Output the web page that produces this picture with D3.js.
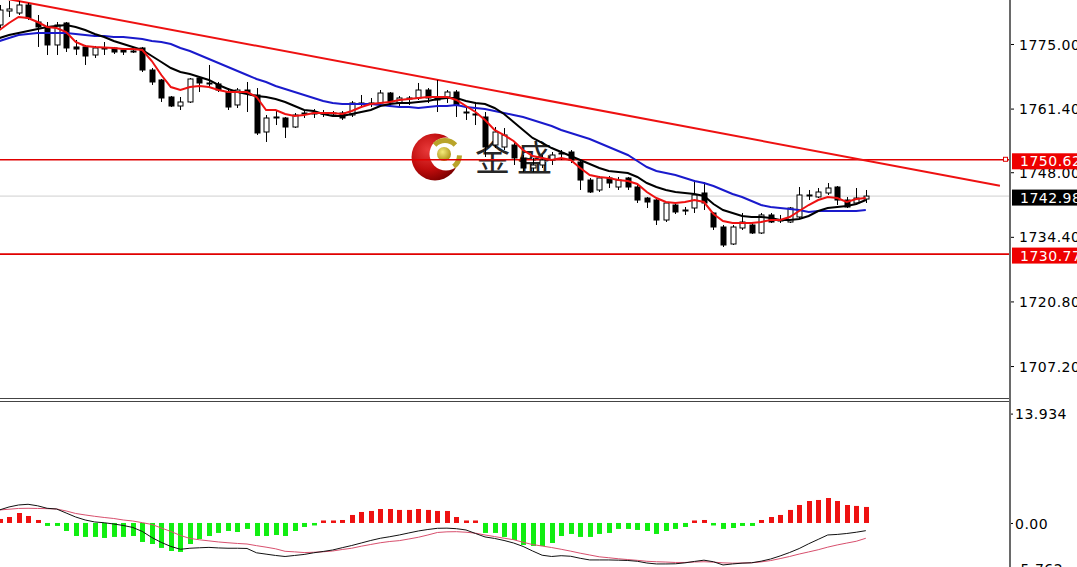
<!DOCTYPE html>
<html><head><meta charset="utf-8">
<script src="https://cdn.jsdelivr.net/npm/d3@7/dist/d3.min.js"></script>
<style>html,body{margin:0;padding:0;background:#fff;overflow:hidden}svg{display:block}</style>
</head><body>
<svg id="chart" width="1077" height="567"></svg>
<script>
// ---------- DATA ----------
const opens=[1779.00,1781.94,1781.52,1783.21,1779.63,1778.58,1774.79,1779.42,1774.37,1774.37,
1772.68,1774.16,1774.16,1773.73,1773.52,1774.16,1769.52,1767.42,1763.84,1761.94,
1762.79,1767.84,1766.79,1766.58,1764.89,1762.16,1765.31,1764.26,1756.47,1759.63,
1759.42,1757.52,1760.47,1760.47,1760.47,1760.47,1760.47,1760.05,1762.58,1762.58,
1762.58,1764.68,1762.58,1763.63,1763.63,1765.31,1763.63,1763.84,1764.89,1760.68,
1760.26,1759.63,1753.73,1753.31,1753.73,1751.00,1748.89,1749.52,1750.57,1751.84,
1752.26,1750.15,1746.36,1744.26,1746.79,1744.89,1746.79,1744.89,1742.57,1742.15,
1737.94,1741.10,1740.05,1740.47,1743.63,1739.42,1736.47,1732.89,1736.26,1736.89,
1735.21,1739.00,1737.94,1737.52,1738.58,1743.21,1742.79,1743.63,1744.89,1742.15,
1741.52,1742.36];
const highs=[1783.21,1784.05,1784.05,1783.63,1781.10,1779.63,1779.63,1779.63,1775.84,1774.79,
1774.58,1775.42,1774.37,1774.16,1774.16,1774.37,1769.94,1767.63,1764.05,1763.84,
1767.84,1768.05,1770.58,1767.00,1765.73,1765.73,1767.00,1765.73,1760.05,1761.10,
1759.63,1760.47,1761.10,1761.31,1761.10,1760.89,1760.89,1763.00,1764.26,1763.63,
1765.31,1764.89,1764.05,1764.05,1766.79,1765.73,1767.42,1765.31,1765.31,1761.73,
1762.79,1760.68,1757.52,1757.31,1754.16,1751.63,1751.00,1751.63,1752.26,1752.68,
1752.68,1750.57,1746.79,1747.21,1747.21,1747.00,1747.00,1745.31,1742.79,1742.36,
1741.73,1741.52,1740.68,1746.36,1745.94,1739.63,1736.89,1736.89,1739.42,1737.31,
1739.42,1739.42,1739.00,1740.68,1744.89,1744.26,1744.68,1745.73,1745.10,1742.79,
1744.68,1744.26];
const lows=[1778.37,1780.68,1781.10,1780.05,1774.37,1772.68,1772.68,1773.31,1772.68,1770.58,
1772.05,1772.68,1772.89,1772.68,1773.10,1769.10,1766.37,1762.79,1761.73,1761.10,
1762.58,1764.89,1765.94,1764.89,1761.10,1761.52,1760.68,1755.84,1754.37,1757.94,
1755.21,1757.31,1759.42,1759.42,1759.63,1759.63,1759.00,1759.63,1761.73,1761.73,
1762.16,1761.73,1761.52,1762.16,1763.21,1762.58,1760.68,1762.58,1759.63,1759.00,
1757.94,1751.21,1753.10,1752.68,1749.52,1748.05,1748.05,1748.89,1749.52,1750.57,
1749.94,1744.26,1743.63,1743.84,1744.68,1744.26,1744.26,1741.52,1740.47,1736.89,
1737.52,1739.21,1739.00,1739.42,1740.05,1735.84,1732.26,1732.68,1735.84,1735.00,
1735.00,1737.31,1737.31,1737.31,1738.36,1742.15,1742.57,1743.21,1741.10,1740.47,
1741.10,1741.52];
const closes=[1782.15,1782.37,1783.21,1780.47,1778.58,1774.79,1779.00,1774.16,1773.94,1772.47,
1774.16,1773.94,1773.31,1773.31,1773.42,1769.52,1767.00,1763.63,1761.94,1762.79,
1767.63,1766.79,1766.58,1765.31,1761.73,1765.31,1764.68,1756.26,1759.42,1759.42,
1757.52,1760.05,1760.26,1760.36,1760.26,1760.36,1759.42,1762.58,1762.37,1762.37,
1764.68,1762.79,1763.63,1763.42,1765.31,1763.63,1763.21,1764.89,1762.16,1760.47,
1760.05,1753.31,1756.47,1755.84,1751.00,1748.89,1749.52,1750.57,1751.63,1752.05,
1750.57,1746.36,1743.84,1746.79,1745.73,1746.36,1744.89,1742.15,1741.73,1737.94,
1741.52,1739.63,1739.84,1743.21,1741.52,1736.47,1732.68,1736.47,1737.52,1735.21,
1739.00,1737.52,1737.73,1740.47,1743.21,1743.00,1743.84,1744.68,1742.15,1740.68,
1742.57,1742.98];

const maFast=[1777.94,1779.42,1780.68,1780.47,1779.63,1778.58,1778.37,1777.52,1775.42,1774.58,
1774.37,1774.26,1774.16,1773.94,1773.94,1773.73,1771.42,1768.47,1765.94,1765.31,
1765.94,1766.16,1765.94,1765.31,1764.89,1764.89,1764.89,1763.84,1761.10,1761.10,
1760.26,1759.84,1760.05,1760.47,1760.47,1760.47,1760.26,1760.89,1761.73,1762.37,
1762.58,1762.79,1763.21,1763.42,1763.63,1763.84,1763.84,1763.84,1763.21,1761.94,
1760.68,1759.00,1756.89,1755.84,1754.58,1752.68,1751.42,1751.00,1750.57,1751.00,
1750.57,1748.89,1747.42,1747.00,1746.79,1746.36,1746.15,1745.52,1743.84,1742.57,
1741.73,1741.52,1741.73,1742.15,1741.73,1739.21,1737.73,1737.31,1737.31,1737.31,
1737.52,1737.94,1737.94,1738.58,1739.84,1741.10,1742.15,1742.79,1742.57,1741.73,
1742.36,1742.57];
const maMid=[1776.26,1776.89,1777.31,1777.73,1778.15,1778.58,1778.79,1779.00,1778.58,1777.94,
1777.10,1776.47,1775.63,1775.00,1774.37,1773.73,1772.47,1771.21,1769.94,1769.10,
1768.68,1768.05,1767.42,1766.37,1765.52,1764.89,1764.47,1764.05,1763.84,1763.42,
1762.79,1761.94,1761.10,1760.89,1760.26,1759.84,1759.84,1760.26,1760.68,1761.10,
1761.94,1762.37,1762.58,1762.58,1762.79,1763.00,1763.42,1763.63,1763.63,1763.00,
1762.58,1762.37,1761.52,1760.26,1758.58,1756.89,1755.21,1754.16,1753.10,1752.26,
1751.42,1750.57,1749.73,1748.89,1748.26,1748.05,1747.84,1747.00,1745.73,1744.89,
1744.26,1743.84,1743.63,1743.42,1743.00,1741.31,1740.05,1739.42,1738.79,1738.58,
1738.58,1738.36,1737.94,1737.94,1738.15,1738.79,1739.84,1740.47,1740.68,1740.89,
1741.31,1742.15];
const maSlow=[1775.63,1776.26,1776.89,1777.10,1777.31,1777.31,1777.31,1777.31,1777.10,1776.89,
1776.68,1776.68,1776.47,1776.47,1776.26,1776.05,1775.63,1775.42,1775.00,1774.16,
1773.52,1772.68,1771.84,1771.00,1770.15,1769.31,1768.47,1767.63,1767.00,1766.16,
1765.52,1764.89,1764.26,1763.63,1763.00,1762.58,1762.37,1762.37,1762.37,1762.37,
1762.16,1761.94,1761.73,1761.73,1761.52,1761.73,1761.94,1761.94,1762.16,1761.73,
1761.52,1761.31,1760.89,1760.47,1760.05,1759.63,1759.00,1758.37,1757.73,1756.89,
1756.26,1755.63,1755.00,1754.16,1753.31,1752.47,1751.63,1750.36,1749.10,1748.26,
1747.84,1747.42,1746.79,1746.15,1745.73,1745.10,1744.26,1743.42,1742.79,1741.94,
1741.10,1740.68,1740.47,1740.26,1740.05,1739.63,1739.84,1739.84,1739.84,1739.84,
1739.84,1740.05];

const macdLine=[1.66,2.04,2.29,2.38,2.19,1.87,1.78,1.27,0.76,0.38,
0.13,0.03,-0.13,-0.32,-0.57,-1.08,-1.85,-2.48,-2.99,-3.35,
-3.22,-3.16,-3.11,-3.18,-3.22,-3.22,-3.25,-3.80,-3.97,-4.14,
-4.27,-4.14,-4.01,-3.80,-3.63,-3.44,-3.15,-2.87,-2.55,-2.23,
-1.95,-1.75,-1.53,-1.27,-1.02,-0.83,-0.68,-0.66,-0.73,-0.89,
-1.34,-1.78,-1.97,-2.23,-2.55,-2.99,-3.57,-4.11,-4.27,-4.17,
-4.24,-4.50,-4.71,-4.71,-4.71,-4.74,-4.78,-4.88,-5.10,-5.22,
-5.22,-5.20,-5.08,-4.90,-4.74,-4.94,-5.35,-5.22,-5.12,-5.07,
-4.87,-4.59,-4.20,-3.76,-3.26,-2.65,-2.09,-1.53,-1.46,-1.34,
-1.18,-0.98];
const signalLine=[1.66,1.75,1.85,1.87,1.85,1.82,1.78,1.53,1.21,1.02,
0.85,0.70,0.57,0.38,0.25,0.04,-0.19,-0.64,-1.08,-1.59,
-1.97,-2.14,-2.28,-2.42,-2.52,-2.61,-2.68,-2.89,-3.08,-3.29,
-3.61,-3.68,-3.77,-3.73,-3.67,-3.57,-3.38,-3.22,-2.96,-2.74,
-2.52,-2.36,-2.25,-2.04,-1.82,-1.53,-1.21,-1.13,-1.11,-1.18,
-1.30,-1.53,-1.73,-1.94,-2.13,-2.46,-2.75,-2.94,-3.13,-3.35,
-3.59,-3.85,-4.08,-4.31,-4.43,-4.56,-4.66,-4.76,-4.88,-4.94,
-4.98,-5.03,-5.03,-4.97,-4.94,-4.99,-5.08,-5.12,-5.10,-5.07,
-4.96,-4.79,-4.54,-4.27,-3.96,-3.69,-3.41,-3.08,-2.80,-2.56,
-2.33,-1.95];
const histogram=[0.51,0.76,1.27,0.89,0.38,-0.38,-0.38,-1.02,-1.66,-1.78,
-1.78,-1.91,-1.78,-1.78,-1.66,-2.42,-2.68,-3.18,-3.57,-3.69,
-2.68,-2.04,-1.66,-1.27,-1.02,-1.15,-0.76,-1.66,-1.66,-1.53,
-1.66,-1.02,-0.51,-0.25,0.19,0.25,0.38,1.02,1.40,1.53,
1.78,1.78,1.66,1.66,1.78,1.66,1.53,1.53,0.76,0.19,
0.13,-1.27,-1.27,-1.78,-2.17,-2.80,-2.93,-2.93,-2.55,-1.66,
-1.40,-1.78,-1.78,-1.40,-1.27,-0.76,-0.76,-0.89,-1.02,-1.40,
-1.02,-0.76,-0.51,0.19,0.38,-0.32,-0.76,-0.64,-0.38,-0.38,
0.38,0.76,1.02,1.66,2.29,2.80,2.93,3.18,2.80,2.29,
2.17,2.04];

const priceTicks=[1775.00,1761.40,1748.00,1734.40,1720.80,1707.20];
const levelPrices=[1750.62,1730.77];
const bidPrice=1742.98;
const macdTicks=[13.934,0,-5.762];
const macdTickLabels=["13.934","0.00","-5.762"];
const trendBars=[0,105.09];
const trendPrices=[1784.79,1745.17];
const logoText="金盛";

// ---------- LAYOUT ----------
const W=1077,H=567, axisX=1010;
const svg=d3.select("#chart");
const font="'DejaVu Sans', Verdana, sans-serif";
const n=closes.length;
const x=d3.scaleLinear().domain([0,n-1]).range([-0.5,865.8]);
const y=d3.scaleLinear().domain([1700.47,1784.26]).range([398,0]);
const ym=d3.scaleLinear().domain([-5.762,13.934]).range([568.2,413.6]);

const defs=svg.append("defs");
defs.append("clipPath").attr("id","cMain").append("rect").attr("x",0).attr("y",0).attr("width",axisX).attr("height",398);
defs.append("clipPath").attr("id","cMacd").append("rect").attr("x",0).attr("y",402).attr("width",axisX).attr("height",H-402);
const rg=defs.append("radialGradient").attr("id","redG").attr("cx","35%").attr("cy","35%").attr("r","70%");
rg.append("stop").attr("offset","0%").attr("stop-color","#e83a3a");
rg.append("stop").attr("offset","60%").attr("stop-color","#c00d0d");
rg.append("stop").attr("offset","100%").attr("stop-color","#7d0000");
const gg=defs.append("radialGradient").attr("id","goldG").attr("cx","40%").attr("cy","35%").attr("r","70%");
gg.append("stop").attr("offset","0%").attr("stop-color","#f4ea7a");
gg.append("stop").attr("offset","100%").attr("stop-color","#a88e12");

// ---------- LOGO (watermark, behind) ----------
const logo=svg.append("g");
logo.append("circle").attr("cx",435).attr("cy",157).attr("r",23.5).attr("fill","url(#redG)");
logo.append("circle").attr("cx",446).attr("cy",154).attr("r",16.5).attr("fill","#fff");
const arcG=d3.arc().innerRadius(12).outerRadius(17);
logo.append("path").attr("transform","translate(445,155)")
  .attr("d",arcG({startAngle:-0.8,endAngle:0.8})).attr("fill","#b9a42a");
logo.append("path").attr("transform","translate(445,155)")
  .attr("d",arcG({startAngle:1.6,endAngle:2.5})).attr("fill","#b9a42a");
logo.append("circle").attr("cx",444).attr("cy",154).attr("r",7).attr("fill","url(#goldG)");
logo.append("text").attr("x",475).attr("y",171).text(logoText)
  .attr("font-family","'Noto Sans CJK SC', sans-serif").attr("font-size",35)
  .attr("letter-spacing",7).attr("fill","#262626");

// ---------- MAIN PANEL ----------
const main=svg.append("g").attr("clip-path","url(#cMain)");
main.append("line").attr("x1",0).attr("x2",axisX).attr("y1",y(bidPrice)).attr("y2",y(bidPrice))
  .attr("stroke","#cfcfcf").attr("stroke-width",1);
main.selectAll("line.lvl").data(levelPrices).join("line").attr("class","lvl")
  .attr("x1",0).attr("x2",axisX).attr("y1",d=>y(d)).attr("y2",d=>y(d))
  .attr("stroke","#e00000").attr("stroke-width",1.6);
main.append("line").attr("x1",x(trendBars[0])).attr("y1",y(trendPrices[0]))
  .attr("x2",x(trendBars[1])).attr("y2",y(trendPrices[1]))
  .attr("stroke","#ee1111").attr("stroke-width",2);

const idx=d3.range(n);
const cg=main.append("g");
cg.selectAll("line.wick").data(idx).join("line").attr("class","wick")
  .attr("x1",i=>Math.round(x(i))+0.5).attr("x2",i=>Math.round(x(i))+0.5)
  .attr("y1",i=>y(highs[i])).attr("y2",i=>y(lows[i]))
  .attr("stroke","#000").attr("stroke-width",1);
cg.selectAll("rect.body").data(idx).join("rect").attr("class","body")
  .attr("x",i=>Math.round(x(i))-2)
  .attr("width",5)
  .attr("y",i=>y(Math.max(opens[i],closes[i])))
  .attr("height",i=>Math.max(1,Math.abs(y(opens[i])-y(closes[i]))))
  .attr("fill",i=>closes[i]>=opens[i]?"#fff":"#000")
  .attr("stroke","#000").attr("stroke-width",1);

const lineGen=d3.line().x((d,i)=>x(i)).y(d=>y(d));
main.append("path").datum(maSlow).attr("d",lineGen).attr("fill","none").attr("stroke","#1a1acc").attr("stroke-width",2);
main.append("path").datum(maMid).attr("d",lineGen).attr("fill","none").attr("stroke","#000").attr("stroke-width",2);
main.append("path").datum(maFast).attr("d",lineGen).attr("fill","none").attr("stroke","#ee1111").attr("stroke-width",2);

// ---------- MACD PANEL ----------
const mg=svg.append("g").attr("clip-path","url(#cMacd)");
const hh=i=>Math.max(2.5,Math.abs(ym(histogram[i])-ym(0)));
mg.selectAll("rect.h").data(idx).join("rect").attr("class","h")
  .attr("x",i=>Math.round(x(i))-2).attr("width",5)
  .attr("y",i=>histogram[i]>=0?ym(0)-hh(i):ym(0))
  .attr("height",hh)
  .attr("fill",i=>histogram[i]>=0?"#ee1111":"#11ee11");
const mLine=d3.line().x((d,i)=>x(i)).y(d=>ym(d));
mg.append("path").datum(signalLine).attr("d",mLine).attr("fill","none").attr("stroke","#d8506e").attr("stroke-width",1);
mg.append("path").datum(macdLine).attr("d",mLine).attr("fill","none").attr("stroke","#111").attr("stroke-width",1);

// ---------- FRAME ----------
svg.append("line").attr("x1",0).attr("x2",axisX).attr("y1",398.5).attr("y2",398.5).attr("stroke","#444").attr("stroke-width",1);
svg.append("line").attr("x1",0).attr("x2",axisX).attr("y1",401.5).attr("y2",401.5).attr("stroke","#444").attr("stroke-width",1);
svg.append("line").attr("x1",axisX).attr("x2",axisX).attr("y1",0).attr("y2",H).attr("stroke","#6a6a6a").attr("stroke-width",2);

// ---------- AXES ----------
const pAxis=svg.append("g").attr("transform",`translate(${axisX+1},0)`)
  .call(d3.axisRight(y).tickValues(priceTicks).tickFormat(d3.format(".2f")).tickSize(3).tickPadding(5));
pAxis.select(".domain").remove();
pAxis.selectAll("text").attr("font-family",font).attr("font-size",14).attr("letter-spacing",0.5).attr("fill","#000").attr("dy","0.36em");
pAxis.selectAll("line").attr("stroke","#000");

const mAxis=svg.append("g").attr("transform",`translate(${axisX+1},0)`)
  .call(d3.axisRight(ym).tickValues(macdTicks).tickFormat((d,i)=>macdTickLabels[i]).tickSize(2).tickPadding(2));
mAxis.select(".domain").remove();
mAxis.selectAll("text").attr("font-family",font).attr("font-size",14).attr("letter-spacing",0.5).attr("fill","#000").attr("dy","0.36em");
mAxis.selectAll("line").attr("stroke","#000");

const tags=[{v:levelPrices[0],bg:"#ee0000"},{v:bidPrice,bg:"#000"},{v:levelPrices[1],bg:"#ee0000"}];
const tg=svg.append("g");
tags.forEach(t=>{
  const cy=y(t.v)+1.5;
  tg.append("rect").attr("x",axisX+2).attr("y",cy-8).attr("width",W-axisX).attr("height",16).attr("fill",t.bg);
  tg.append("text").attr("x",axisX+10).attr("y",cy).attr("dy","0.36em").text(d3.format(".2f")(t.v))
    .attr("font-family",font).attr("font-size",14).attr("letter-spacing",0.5).attr("fill","#fff");
});
svg.append("rect").attr("x",axisX-6.5).attr("y",y(levelPrices[0])-2.5).attr("width",4).attr("height",4)
  .attr("fill","#fff").attr("stroke","#e00000").attr("stroke-width",1);
</script>
</body></html>
